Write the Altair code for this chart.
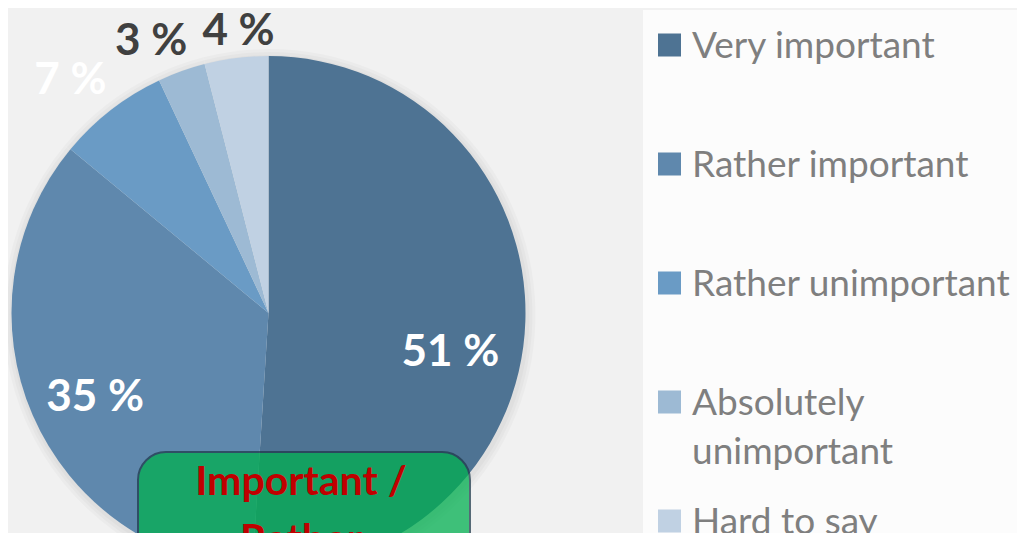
import altair as alt
import pandas as pd

categories = ["Very important", "Rather important", "Rather unimportant",
              "Absolutely unimportant", "Hard to say"]
values = [51, 35, 7, 3, 4]
colors = ["#4e7393", "#5f88ad", "#6a9bc5", "#9dbad4", "#c0d1e3"]
box_text = "Important /\nRather"

total = sum(values)
df = pd.DataFrame({"cat": categories, "value": values, "idx": list(range(len(values)))})
df["label"] = df["value"].astype(str) + " %"
df["mid"] = df["value"].cumsum() - df["value"] / 2

CX, CY, R = 260.5, 305, 257
FONT = "Lato"

base = alt.Chart(df)
one = base.transform_aggregate(total="sum(value)")
color = alt.Color("cat:N", scale=alt.Scale(domain=categories, range=colors), legend=None)
theta_scale = alt.Scale(domain=[0, total])

panel = one.mark_rect(color="#ffffff", opacity=0.75).encode(
    x=alt.value(635), x2=alt.value(1020), y=alt.value(2), y2=alt.value(540))

shadows = [
    base.mark_arc(radius=R + d, color="#000000", opacity=0.025).encode(
        theta=alt.Theta("value:Q", stack=True, scale=theta_scale),
        order=alt.Order("idx:Q"),
        x=alt.value(CX + 1), y=alt.value(CY + 2))
    for d in (9, 6, 3)
]

pie = base.mark_arc(radius=R).encode(
    theta=alt.Theta("value:Q", stack=True, scale=theta_scale),
    order=alt.Order("idx:Q"),
    color=color,
    x=alt.value(CX), y=alt.value(CY))


def label(cat, r, dx, dy, col):
    return base.transform_filter(alt.datum.cat == cat).mark_text(
        radius=r, dx=dx, dy=dy, font=FONT, fontWeight="bold", fontSize=44,
        color=col, baseline="middle", align="center").encode(
        theta=alt.Theta("mid:Q", scale=theta_scale),
        text="label:N",
        x=alt.value(CX), y=alt.value(CY))


labels = [
    label("Very important", 186, -4, 34, "#ffffff"),
    label("Rather important", 190, 1, 10, "#ffffff"),
    label("Rather unimportant", 307, -10, 11, "#ffffff"),
    label("Absolutely unimportant", 299, -16, 10, "#404040"),
    label("Hard to say", 287, 6, 4, "#404040"),
]

box = one.mark_rect(color="#00b050", opacity=0.74, cornerRadius=28,
                    stroke="#1f3a4c", strokeWidth=2, clip=True).encode(
    x=alt.value(130), x2=alt.value(462), y=alt.value(444), y2=alt.value(620))

box_lbl = one.mark_text(font=FONT, fontWeight="bold", fontSize=41, color="#c00000",
                        align="center", baseline="alphabetic", lineBreak="\n",
                        lineHeight=58, clip=True).encode(
    x=alt.value(293), y=alt.value(487), text=alt.value(box_text))

leg_y = alt.Y("idx:Q", scale=alt.Scale(domain=[0, len(values) - 1], range=[37, 513]), axis=None)

leg_sq = base.mark_square(size=529, opacity=1).encode(
    x=alt.value(661.5), y=leg_y, color=color)

leg_txt = base.transform_calculate(
    lbl="replace(datum.cat, 'Absolutely ', 'Absolutely\\n')"
).mark_text(align="left", baseline="alphabetic", dy=13, lineBreak="\n",
            lineHeight=49, font=FONT, fontSize=37, color="#7f7f7f").encode(
    x=alt.value(684), y=leg_y, text="lbl:N")

chart = alt.layer(panel, *shadows, pie, *labels, box, box_lbl, leg_sq, leg_txt).properties(
    width=1009, height=525, padding=0, autosize="none", background="#f1f1f1"
).configure_view(strokeWidth=0)

chart.save("out.html", embed_options={"renderer": "svg", "actions": False})
